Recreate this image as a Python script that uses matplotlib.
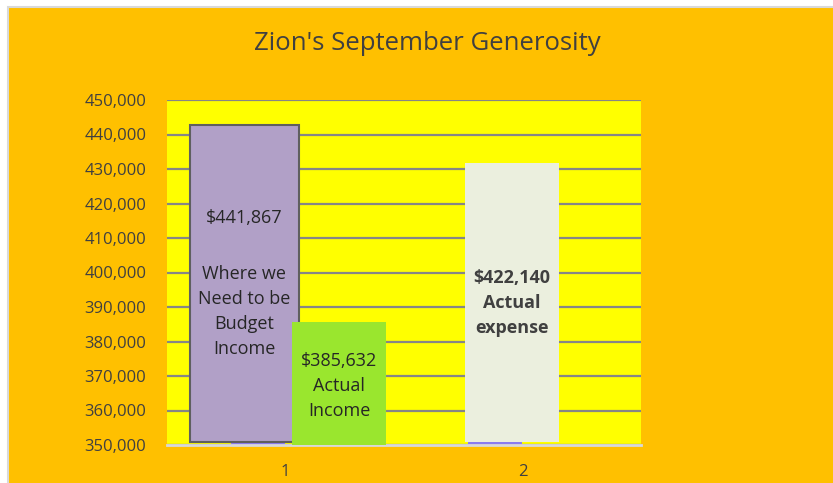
import numpy as np
import matplotlib
matplotlib.use("Agg")
import matplotlib.pyplot as plt
from matplotlib.patches import Rectangle
from matplotlib.ticker import FuncFormatter, MultipleLocator

plt.rcParams['font.family'] = ['Open Sans', 'DejaVu Sans']

# chart data
categories = ['1', '2']
budget_income = [442700, np.nan]      # purple box
baseline_series = [350900, 350900]    # thin blue sliver
actual_income = [385632, np.nan]      # green
actual_expense = [np.nan, 431650]     # pale bar, category 2

title = "Zion's September Generosity"
budget_text = "$441,867"
budget_note = "Where we\nNeed to be\nBudget\nIncome"
income_text = "$385,632\nActual\nIncome"
expense_text = "$422,140\nActual\nexpense"

ymin, ymax = 350000, 450000
text_col = '#404040'

fig = plt.figure(figsize=(8.33, 4.83), dpi=100, facecolor='white')
# orange chart area with grey frame (top and left edges only visible)
fig.patches.append(Rectangle((7.5 / 833, -0.05), 1.1, 1.05 - 7.5 / 483,
                             transform=fig.transFigure,
                             facecolor='#FFC000', edgecolor='#D9D9D9', linewidth=1.5,
                             zorder=-5))

ax = fig.add_axes([167 / 833, 1 - 445 / 483, 474 / 833, 345 / 483])
ax.set_facecolor('#FFFF00')

x = np.arange(len(categories))

ax.bar(x - 0.117, np.array(baseline_series) - ymin, 0.23, bottom=ymin,
       color='#8A7CF0', zorder=2)
ax.bar(x - 0.173, np.array(budget_income) - baseline_series[0], 0.46,
       bottom=baseline_series[0], color='#B1A0C7', edgecolor='#5F5F5F',
       linewidth=1.5, zorder=3)
ax.bar(x + 0.226, np.array(actual_income) - ymin, 0.397, bottom=ymin,
       color='#9AE62E', zorder=4)
ax.bar(x - 0.044, np.array(actual_expense) - baseline_series[1], 0.40,
       bottom=baseline_series[1], color='#EBEFDE', zorder=3)

# text boxes inside the bars
ax.text(0 - 0.173, 415800, budget_text, ha='center', va='center',
        fontsize=13, color='#262626', zorder=5)
ax.text(0 - 0.173, 388700, budget_note, ha='center', va='center',
        fontsize=13, color='#262626', linespacing=1.5, zorder=5)
ax.text(0 + 0.226, 367100, income_text, ha='center', va='center',
        fontsize=13, color='#262626', linespacing=1.5, zorder=5)
ax.text(1 - 0.044, 391200, expense_text, ha='center', va='center',
        fontsize=13, color='#404040', fontweight='bold', linespacing=1.5, zorder=5)

ax.set_xlim(-0.5, 1.5)
ax.set_ylim(ymin, ymax)
ax.set_xticks(x)
ax.set_xticklabels(categories)
ax.yaxis.set_major_locator(MultipleLocator(10000))
ax.yaxis.set_major_formatter(FuncFormatter(lambda v, p: f"{int(v):,}"))
ax.tick_params(length=0, labelsize=12, colors=text_col)
ax.tick_params(axis='y', pad=15)
ax.tick_params(axis='x', pad=14)

ax.grid(axis='y', color='#868686', linewidth=1.6, zorder=1)
ax.set_axisbelow(True)
for side in ['left', 'right', 'top']:
    ax.spines[side].set_visible(False)
ax.spines['bottom'].set_color('#D9D9D9')
ax.spines['bottom'].set_linewidth(2)

fig.text(427 / 833, 1 - 44 / 483, title, ha='center', va='center',
         fontsize=18.5, color=text_col)

fig.savefig('out.png', dpi=100, facecolor=fig.get_facecolor())
